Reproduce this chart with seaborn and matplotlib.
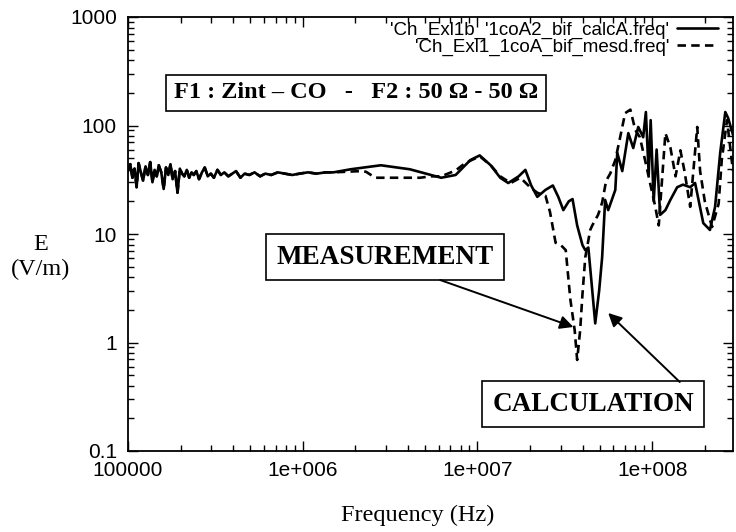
import numpy as np
import pandas as pd
import matplotlib
matplotlib.use("Agg")
import matplotlib.pyplot as plt
import seaborn as sns
from matplotlib.ticker import FixedLocator, FixedFormatter, LogLocator, NullFormatter

# ---------------- data ----------------
noise_freq = [1.00e5, 1.03e5, 1.06e5, 1.09e5, 1.12e5, 1.15e5, 1.19e5, 1.22e5, 1.26e5, 1.30e5,
              1.34e5, 1.38e5, 1.42e5, 1.46e5, 1.50e5, 1.55e5, 1.60e5, 1.65e5, 1.70e5, 1.75e5,
              1.80e5, 1.86e5, 1.92e5, 1.98e5, 2.04e5, 2.10e5, 2.17e5, 2.24e5, 2.31e5, 2.38e5,
              2.46e5, 2.55e5, 2.65e5, 2.75e5, 2.86e5, 2.98e5, 3.10e5, 3.25e5, 3.40e5, 3.56e5,
              3.75e5, 3.95e5, 4.15e5, 4.40e5, 4.65e5, 4.95e5, 5.30e5, 5.70e5, 6.10e5, 6.60e5,
              7.20e5, 7.90e5, 8.70e5, 9.60e5, 1.07e6, 1.20e6, 1.35e6, 1.50e6]
noise_E = [38, 44, 33, 40, 27, 45, 36, 31, 42, 35,
           46, 30, 39, 34, 43, 37, 26, 41, 35, 44,
           32, 38, 24, 40, 36, 34, 39, 33, 37, 35,
           38, 32, 37, 41, 34, 36, 33, 39, 35, 37,
           34, 36, 38, 33, 36, 35, 37, 34, 36, 35,
           37, 36, 35, 36, 37, 36, 37, 37]

calc_freq = [1.88e6, 2.8e6, 4.1e6, 6.2e6, 7.5e6, 9.1e6, 1.03e7, 1.19e7, 1.35e7, 1.5e7,
             1.72e7, 1.88e7, 2.03e7, 2.2e7, 2.45e7, 2.7e7, 2.9e7, 3.1e7, 3.33e7, 3.5e7,
             3.72e7, 3.99e7, 4.14e7, 4.31e7, 4.48e7, 4.72e7, 4.97e7, 5.17e7, 5.38e7, 5.6e7,
             6.15e7, 6.31e7, 6.74e7, 7.3e7, 7.79e7, 8.32e7, 8.88e7, 9.2e7, 9.55e7, 9.8e7,
             1.02e8, 1.06e8, 1.11e8, 1.19e8, 1.27e8, 1.39e8, 1.5e8, 1.65e8, 1.76e8, 1.96e8,
             2.14e8, 2.29e8, 2.45e8, 2.62e8, 2.72e8, 2.9e8]
calc_E = [39.5, 43, 39.5, 33, 35, 48, 53, 43, 33, 29.5,
          34, 39, 28, 22, 25.5, 28, 22, 16.6, 20, 21,
          12, 7.9, 7.1, 7.5, 3.8, 1.5, 3.0, 6.1, 20.6, 16.6,
          25.5, 56, 38, 85, 62, 97, 78, 133, 35, 112,
          20, 60, 15, 16.6, 20.6, 27, 28.5, 27, 29.5, 12.6,
          10.9, 17.8, 56, 133, 117, 82]

meas_freq = [2.15e6, 2.3e6, 2.6e6, 3.6e6, 4.7e6, 5.4e6, 6.2e6, 7.5e6, 8.5e6, 1.03e7,
             1.19e7, 1.35e7, 1.55e7, 1.76e7, 2.0e7, 2.2e7, 2.45e7, 2.6e7, 2.8e7, 3.0e7,
             3.2e7, 3.4e7, 3.6e7, 3.72e7, 3.87e7, 3.99e7, 4.14e7, 4.42e7, 4.54e7, 4.9e7,
             5.17e7, 5.45e7, 5.75e7, 6.15e7, 6.5e7, 7.0e7, 7.5e7, 8.0e7, 8.5e7, 9.1e7,
             9.7e7, 1.04e8, 1.09e8, 1.19e8, 1.27e8, 1.36e8, 1.45e8, 1.53e8, 1.65e8, 1.81e8,
             1.88e8, 2.0e8, 2.2e8, 2.4e8, 2.5e8, 2.68e8, 2.9e8]
meas_E = [38, 37.5, 33, 33, 33, 34, 34, 38.5, 45, 52,
          43, 34, 29.5, 33, 27, 24, 22.5, 16, 8.3, 7.9,
          7.1, 2.5, 1.3, 0.69, 1.3, 2.8, 6.1, 10.9, 12, 15,
          19.5, 31, 36, 48, 73, 130, 140, 91, 78, 48,
          30, 18, 12, 85, 63, 34, 59, 38, 17.8, 97,
          38, 20, 11.6, 19, 48, 112, 38]

series_labels = ["'Ch_Exl1b_'1coA2_bif_calcA.freq'", "'Ch_Exl1_1coA_bif_mesd.freq'"]
x_ticks = [1e5, 1e6, 1e7, 1e8]
x_tick_labels = ["100000", "1e+006", "1e+007", "1e+008"]
y_ticks = [0.1, 1, 10, 100, 1000]
y_tick_labels = ["0.1", "1", "10", "100", "1000"]
box_title = "F1 : Zint – CO   -   F2 : 50 Ω - 50 Ω"
meas_note = "MEASUREMENT"
calc_note = "CALCULATION"
meas_arrow_tip = (3.54e7, 1.39)
calc_arrow_tip = (5.6e7, 1.87)

# ---------------- style ----------------
sns.set_theme(style="ticks", rc={
    "axes.edgecolor": "black", "text.color": "black", "axes.labelcolor": "black",
    "xtick.color": "black", "ytick.color": "black", "axes.facecolor": "white",
    "figure.facecolor": "white",
})
plt.rcParams['font.family'] = ['Liberation Sans', 'DejaVu Sans']
serif = ['Liberation Serif', 'DejaVu Serif']

df = pd.concat([
    pd.DataFrame({"freq": noise_freq + calc_freq, "E": noise_E + calc_E, "series": series_labels[0]}),
    pd.DataFrame({"freq": noise_freq + meas_freq, "E": noise_E + meas_E, "series": series_labels[1]}),
], ignore_index=True)

fig = plt.figure(figsize=(7.36, 5.32), dpi=100)
ax = fig.add_axes([128 / 736, 1 - 451 / 532, 605 / 736, 434 / 532])

sns.lineplot(data=df, x="freq", y="E", style="series", color="black",
             dashes=["", (3.2, 2.0)], estimator=None, sort=False,
             lw=1.9, ax=ax)

ax.set_xscale("log")
ax.set_yscale("log")
ax.set_xlim(1e5, 2.9e8)
ax.set_ylim(0.1, 1000)

ax.xaxis.set_major_locator(FixedLocator(x_ticks))
ax.xaxis.set_major_formatter(FixedFormatter(x_tick_labels))
ax.yaxis.set_major_locator(FixedLocator(y_ticks))
ax.yaxis.set_major_formatter(FixedFormatter(y_tick_labels))
for axis in (ax.xaxis, ax.yaxis):
    axis.set_minor_locator(LogLocator(base=10, subs=np.arange(2, 10), numticks=30))
    axis.set_minor_formatter(NullFormatter())

ax.tick_params(which="both", direction="in", top=True, right=True, width=1.0)
ax.tick_params(which="major", length=7, labelsize=15)
ax.tick_params(which="minor", length=4)
ax.tick_params(axis="x", which="major", pad=7)
ax.tick_params(axis="y", which="major", pad=8)
for sp in ax.spines.values():
    sp.set_visible(True)
    sp.set_linewidth(1.3)
    sp.set_color("black")

ax.set_xlabel("Frequency (Hz)", family=serif, fontsize=17.5)
ax.xaxis.set_label_coords(0.479, -0.125)
ax.set_ylabel("E\n(V/m)", family=serif, fontsize=17.5, rotation=0,
              ha="center", va="center", multialignment="center")
ax.yaxis.set_label_coords(-0.145, 0.447)

handles, labels = ax.get_legend_handles_labels()
ax.legend(handles, labels, loc="upper right", bbox_to_anchor=(0.975, 0.99),
          markerfirst=False, frameon=False, fontsize=13.5, handlelength=2.2,
          handletextpad=0.4, labelspacing=0.0, borderpad=0, borderaxespad=0)

ax.text(0.377, 0.825, box_title, transform=ax.transAxes, ha="center", va="center",
        fontsize=17.5, fontweight="bold", family=serif,
        bbox=dict(boxstyle="square,pad=0.32", fc="white", ec="black", lw=1.2))
ax.text(0.425, 0.447, meas_note, transform=ax.transAxes, ha="center", va="center",
        fontsize=19.5, fontweight="bold", family=serif,
        bbox=dict(boxstyle="square,pad=0.38", fc="white", ec="black", lw=1.2))
ax.text(0.769, 0.108, calc_note, transform=ax.transAxes, ha="center", va="center",
        fontsize=19.5, fontweight="bold", family=serif,
        bbox=dict(boxstyle="square,pad=0.38", fc="white", ec="black", lw=1.2))

ax.annotate("", xy=meas_arrow_tip, xycoords="data", xytext=(0.516, 0.394),
            textcoords="axes fraction",
            arrowprops=dict(arrowstyle="-|>", color="black", lw=1.4,
                            mutation_scale=20, shrinkA=0, shrinkB=0))
ax.annotate("", xy=calc_arrow_tip, xycoords="data", xytext=(0.912, 0.159),
            textcoords="axes fraction",
            arrowprops=dict(arrowstyle="-|>", color="black", lw=1.4,
                            mutation_scale=20, shrinkA=0, shrinkB=0))

fig.savefig("out.png", dpi=100)
